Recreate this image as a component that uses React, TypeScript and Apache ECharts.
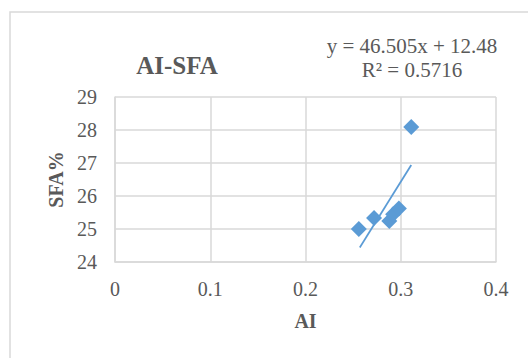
import React, { useEffect, useRef } from "react";
import * as echarts from "echarts";

const chartTitle = "AI-SFA";
const xAxisName = "AI";
const yAxisName = "SFA%";
const equationText = "y = 46.505x + 12.48";
const r2Text = "R² = 0.5716";

const aiValues = [0.256, 0.272, 0.288, 0.292, 0.298, 0.311];
const sfaValues = [25.0, 25.33, 25.24, 25.45, 25.62, 28.09];
const trendX = [0.257, 0.311];
const trendY = [24.44, 26.94];

const xMin = 0;
const xMax = 0.4;
const xStep = 0.1;
const yMin = 24;
const yMax = 29;
const yStep = 1;

const FONT = "'Liberation Serif', 'Times New Roman', serif";
const GREY = "#595959";
const BLUE = "#5b9bd5";
const GRID = "#d9d9d9";

export default function App() {
  const ref = useRef<HTMLDivElement>(null);
  useEffect(() => {
    document.body.style.margin = "0";
    const chart = echarts.init(ref.current!, null, { renderer: "svg" });
    const points = aiValues.map((x, i) => [x, sfaValues[i]]);
    const trend = trendX.map((x, i) => [x, trendY[i]]);
    chart.setOption({
      animation: false,
      backgroundColor: "#fff",
      title: {
        text: chartTitle,
        left: 172,
        top: 60,
        textAlign: "center",
        textVerticalAlign: "middle",
        textStyle: { fontFamily: FONT, fontSize: 25, fontWeight: "bold", color: GREY },
      },
      graphic: [
        {
          type: "rect",
          shape: { x: 10, y: 12, width: 600, height: 400 },
          style: { fill: "none", stroke: GRID, lineWidth: 1.5 },
          silent: true,
        },
        {
          type: "text",
          x: 412,
          y: 46,
          style: {
            text: equationText,
            fontFamily: FONT,
            fontSize: 21,
            fill: GREY,
            align: "center",
            verticalAlign: "middle",
          },
        },
        {
          type: "text",
          x: 412,
          y: 70,
          style: {
            text: r2Text,
            fontFamily: FONT,
            fontSize: 21,
            fill: GREY,
            align: "center",
            verticalAlign: "middle",
          },
        },
      ],
      grid: { left: 115, right: 32, top: 97, bottom: 96 },
      xAxis: {
        type: "value",
        min: xMin,
        max: xMax,
        interval: xStep,
        name: xAxisName,
        nameLocation: "middle",
        nameGap: 49,
        nameTextStyle: { fontFamily: FONT, fontSize: 20, fontWeight: "bold", color: GREY },
        axisLine: { show: true, lineStyle: { color: GRID, width: 1.5 } },
        axisTick: { show: false },
        splitLine: { show: true, lineStyle: { color: GRID, width: 1.5 } },
        axisLabel: {
          fontFamily: FONT,
          fontSize: 20,
          color: GREY,
          margin: 17,
          formatter: (v: number) => String(Math.round(v * 10) / 10),
        },
      },
      yAxis: {
        type: "value",
        min: yMin,
        max: yMax,
        interval: yStep,
        name: yAxisName,
        nameLocation: "middle",
        nameGap: 49,
        nameTextStyle: { fontFamily: FONT, fontSize: 20, fontWeight: "bold", color: GREY },
        axisLine: { show: true, lineStyle: { color: GRID, width: 1.5 } },
        axisTick: { show: false },
        splitLine: { show: true, lineStyle: { color: GRID, width: 1.5 } },
        axisLabel: { fontFamily: FONT, fontSize: 20, color: GREY, margin: 18 },
      },
      series: [
        {
          type: "line",
          data: trend,
          showSymbol: false,
          symbol: "none",
          lineStyle: { color: BLUE, width: 1.75 },
          z: 3,
        },
        {
          type: "scatter",
          data: points,
          symbol: "diamond",
          symbolSize: 16,
          itemStyle: { color: BLUE, opacity: 1 },
          z: 2,
        },
      ],
    });
    return () => chart.dispose();
  }, []);
  return (
    <div
      ref={ref}
      style={{ position: "fixed", left: 0, top: 0, width: 528, height: 358 }}
    />
  );
}
